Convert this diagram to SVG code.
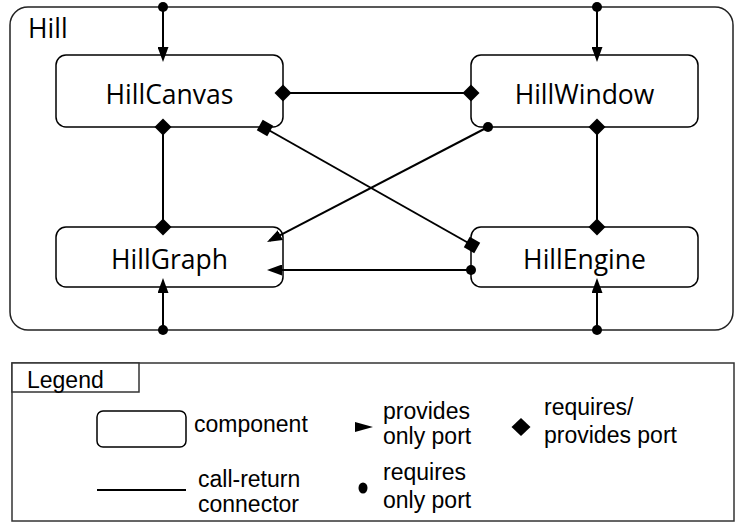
<svg xmlns="http://www.w3.org/2000/svg" xmlns:xlink="http://www.w3.org/1999/xlink" width="735" height="523" viewBox="0 0 735 523">
<style>
.box{fill:#fff;stroke:#000;stroke-width:1.5}
.outer{fill:#fff;stroke:#222;stroke-width:1.5}
.lbl{font-family:"Open Sans","Noto Sans",sans-serif;font-size:26.5px;fill:#000;text-anchor:middle}
.conn{stroke:#000;stroke-width:2;fill:none}
.leg{font-family:"Liberation Sans",Arial,sans-serif;font-size:23px;fill:#000}
.legbox{fill:#fff;stroke:#333;stroke-width:1.5}
</style>
<defs>
<marker id="arr" markerUnits="userSpaceOnUse" viewBox="0 0 15 11" markerWidth="15" markerHeight="11" refX="12" refY="5.5" orient="auto">
<path d="M0,0 L15,5.5 L0,11 z" fill="#000"/>
</marker>
<polygon id="dia" points="0,-8.5 8.5,0 0,8.5 -8.5,0" fill="#000"/>
<rect id="sq" x="-6" y="-6" width="12" height="12" fill="#000"/>
<circle id="dot" r="5" fill="#000"/>
</defs>

<g id="Hill">
<rect class="outer" x="10" y="7" width="723" height="323" rx="18"/>
<text x="28" y="38" font-family="Open Sans,Noto Sans,sans-serif" font-size="26.5" fill="#000">Hill</text>
</g>

<g id="HillCanvas">
<rect class="box" x="56" y="55" width="227" height="72" rx="10"/>
<text class="lbl" x="169.5" y="104">HillCanvas</text>
</g>
<g id="HillWindow">
<rect class="box" x="471" y="55" width="227" height="72" rx="10"/>
<text class="lbl" x="584.5" y="104">HillWindow</text>
</g>
<g id="HillGraph">
<rect class="box" x="56" y="227" width="227" height="60" rx="10"/>
<text class="lbl" x="169.5" y="269">HillGraph</text>
</g>
<g id="HillEngine">
<rect class="box" x="471" y="227" width="227" height="60" rx="10"/>
<text class="lbl" x="584.5" y="269">HillEngine</text>
</g>

<g id="connectors">
<line class="conn" x1="163" y1="7" x2="163" y2="59" marker-end="url(#arr)"/>
<line class="conn" x1="597" y1="7" x2="597" y2="59" marker-end="url(#arr)"/>
<line class="conn" x1="283" y1="93" x2="471" y2="93"/>
<line class="conn" x1="163" y1="127" x2="163" y2="227"/>
<line class="conn" x1="597" y1="127" x2="597" y2="227"/>
<line class="conn" x1="265" y1="128" x2="472" y2="245"/>
<line class="conn" x1="488" y1="127" x2="269.7" y2="240.6" marker-end="url(#arr)"/>
<line class="conn" x1="471" y1="270" x2="270" y2="270" marker-end="url(#arr)"/>
<line class="conn" x1="163" y1="330" x2="163" y2="281" marker-end="url(#arr)"/>
<line class="conn" x1="597" y1="330" x2="597" y2="281" marker-end="url(#arr)"/>
</g>

<g id="ports">
<use xlink:href="#dot" x="163" y="7"/>
<use xlink:href="#dot" x="597" y="7"/>
<use xlink:href="#dot" x="163" y="330"/>
<use xlink:href="#dot" x="597" y="330"/>
<use xlink:href="#dot" x="488" y="127"/>
<use xlink:href="#dot" x="471" y="270"/>
<use xlink:href="#dia" x="283" y="93"/>
<use xlink:href="#dia" x="471" y="93"/>
<use xlink:href="#dia" x="163" y="127"/>
<use xlink:href="#dia" x="163" y="227"/>
<use xlink:href="#dia" x="597" y="127"/>
<use xlink:href="#dia" x="597" y="227"/>
<use xlink:href="#sq" transform="translate(265,128) rotate(29.5)"/>
<use xlink:href="#sq" transform="translate(472,245) rotate(29.5)"/>
</g>

<g id="Legend">
<rect class="legbox" x="12" y="363" width="722" height="158"/>
<rect class="legbox" x="12" y="363" width="127" height="29"/>
<text class="leg" x="27" y="388">Legend</text>
<rect class="box" x="97" y="411" width="89" height="36" rx="6"/>
<text class="leg" x="194" y="432">component</text>
<line class="conn" x1="97" y1="490" x2="186" y2="490"/>
<text class="leg" x="198" y="487">call-return</text>
<text class="leg" x="198" y="512">connector</text>
<polygon points="355,422 373,427 355,432" fill="#000"/>
<text class="leg" x="383" y="419">provides</text>
<text class="leg" x="383" y="444">only port</text>
<ellipse cx="363" cy="488" rx="4.5" ry="5.5" fill="#000"/>
<text class="leg" x="383" y="480">requires</text>
<text class="leg" x="383" y="508">only port</text>
<polygon points="521,418 530.5,427 521,436 511.5,427" fill="#000"/>
<text class="leg" x="544" y="415">requires/</text>
<text class="leg" x="544" y="443">provides port</text>
</g>
</svg>
